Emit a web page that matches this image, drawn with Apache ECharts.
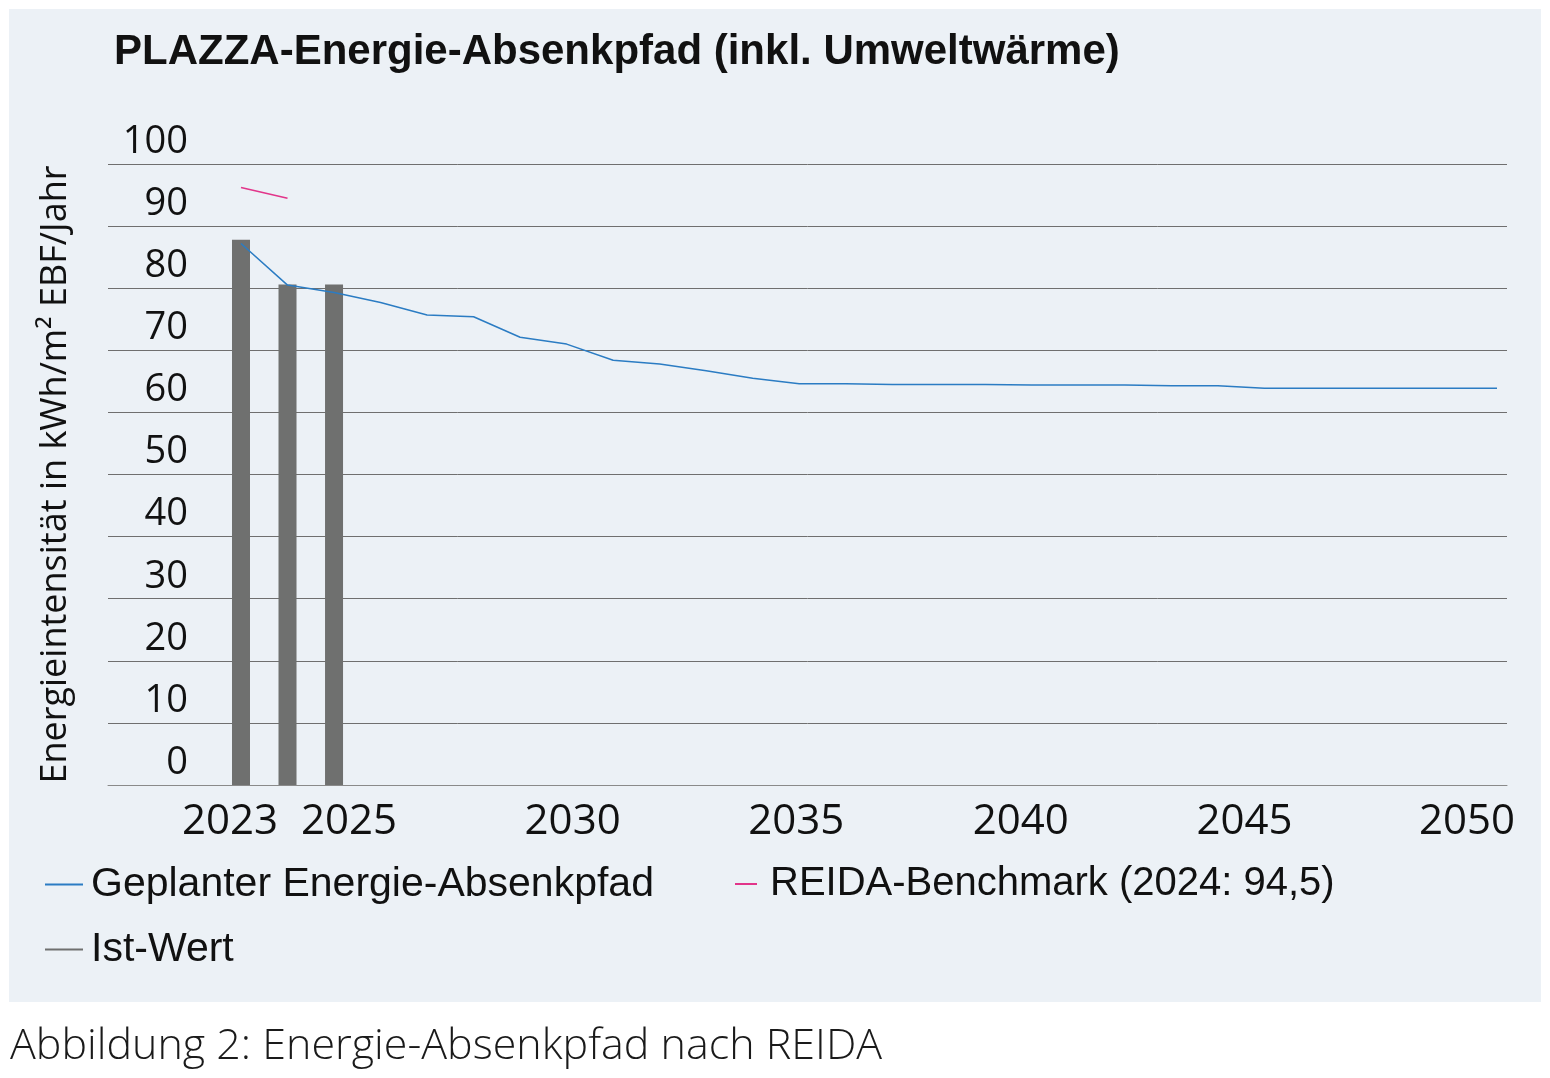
<!DOCTYPE html>
<html>
<head>
<meta charset="utf-8">
<script src="https://cdn.jsdelivr.net/npm/echarts@6/dist/echarts.min.js"></script>
<style>
html,body{margin:0;padding:0;background:#ffffff;}
#chart{width:1550px;height:1078px;}
</style>
</head>
<body>
<div id="chart"></div>
<script>
// ---- data ----
const titleText = 'PLAZZA-Energie-Absenkpfad (inkl. Umweltwärme)';
const yAxisTitle = 'Energieintensität in kWh/m² EBF/Jahr';
const captionText = 'Abbildung 2: Energie-Absenkpfad nach REIDA';
const seriesNames = ['Geplanter Energie-Absenkpfad', 'REIDA-Benchmark (2024: 94,5)', 'Ist-Wert'];
const xTickLabels = [2023, 2025, 2030, 2035, 2040, 2045, 2050];
const yTicks = [0, 10, 20, 30, 40, 50, 60, 70, 80, 90, 100];

const pathYears = [2023, 2024, 2025, 2026, 2027, 2028, 2029, 2030, 2031, 2032, 2033, 2034, 2035, 2036, 2037, 2038, 2039, 2040, 2041, 2042, 2043, 2044, 2045, 2046, 2047, 2048, 2049, 2050];
const pathValues = [87.2, 80.5, 79.3, 77.7, 75.7, 75.4, 72.1, 71.0, 68.4, 67.8, 66.7, 65.5, 64.6, 64.6, 64.5, 64.5, 64.5, 64.4, 64.4, 64.4, 64.3, 64.3, 63.9, 63.9, 63.9, 63.9, 63.9, 63.9];

const benchYears = [2023, 2024];
const benchValues = [96.2, 94.5];

const actualYears = [2023, 2024, 2025];
const actualValues = [87.8, 80.6, 80.6];

// ---- chart ----
const chart = echarts.init(document.getElementById('chart'), null, {renderer: 'canvas'});
const narrow = "'Liberation Sans', sans-serif";
const body = "'Open Sans', 'Noto Sans', sans-serif";

// horizontal nudge of the year labels (reference places them off the data positions)
const labelShift = {2023: -11, 2025: 15, 2030: 6, 2035: -3, 2040: -11, 2045: -20, 2050: -30};
const rich = {};
Object.keys(labelShift).forEach(k => {
  const s = labelShift[k];
  rich['y' + k] = {
    fontFamily: body, fontSize: 42, color: '#111',
    padding: s >= 0 ? [0, 0, 0, 2 * s] : [0, -2 * s, 0, 0]
  };
});

const option = {
  backgroundColor: '#ffffff',
  animation: false,
  graphic: [
    {type: 'rect', shape: {x: 9, y: 9, width: 1532, height: 993}, style: {fill: '#ecf1f6'}, z: -10},
    {type: 'text', left: 10, top: 1025, style: {text: captionText, font: "300 43px " + body, fill: '#1a1a1a'}}
  ],
  title: {
    text: titleText,
    left: 109, top: 26,
    textStyle: {fontFamily: narrow, fontWeight: 'bold', fontSize: 42, color: '#111'}
  },
  legend: [
    {
      data: [seriesNames[0], seriesNames[2]],
      orient: 'vertical', left: 40, top: 859,
      itemWidth: 38, itemHeight: 2, itemGap: 24, icon: 'rect',
      textStyle: {fontFamily: narrow, fontSize: 41, color: '#111', padding: [0, 0, 0, 3]}
    },
    {
      data: [seriesNames[1]],
      orient: 'horizontal', left: 730, top: 859,
      itemWidth: 22, itemHeight: 2, icon: 'rect',
      textStyle: {fontFamily: narrow, fontSize: 40, color: '#111', padding: [0, 0, 0, 8]}
    }
  ],
  grid: {left: 108, right: 43, top: 164, bottom: 293, containLabel: false},
  xAxis: {
    type: 'value',
    min: 2020.141, max: 2050.215,
    axisLine: {show: true, lineStyle: {color: '#8a8a8a', width: 1}},
    axisTick: {show: false},
    splitLine: {show: false},
    axisLabel: {
      customValues: xTickLabels,
      formatter: v => '{y' + v + '|' + v + '}',
      rich: rich,
      margin: 16,
      fontFamily: body, fontSize: 42, color: '#111'
    }
  },
  yAxis: {
    type: 'value',
    min: 0, max: 100, interval: 10,
    name: yAxisTitle,
    nameLocation: 'middle', nameGap: 34, nameRotate: 90,
    nameTextStyle: {fontFamily: body, fontSize: 36, color: '#111'},
    axisLine: {show: false},
    axisTick: {show: false},
    splitLine: {show: true, lineStyle: {color: '#6f6f6f', width: 1}},
    axisLabel: {
      inside: true, align: 'right', margin: 80,
      verticalAlign: 'bottom', padding: [0, 0, 3, 0],
      fontFamily: body, fontSize: 38, color: '#111',
      customValues: yTicks
    }
  },
  series: [
    {
      name: seriesNames[2], type: 'bar',
      data: actualYears.map((y, i) => [y, actualValues[i]]),
      barWidth: 18, itemStyle: {color: '#6f706f'}, z: 1
    },
    {
      name: seriesNames[0], type: 'line',
      data: pathYears.map((y, i) => [y, pathValues[i]]),
      showSymbol: false, symbol: 'none',
      lineStyle: {color: '#2b7cc3', width: 1.5}, itemStyle: {color: '#2b7cc3'}, z: 3
    },
    {
      name: seriesNames[1], type: 'line',
      data: benchYears.map((y, i) => [y, benchValues[i]]),
      showSymbol: false, symbol: 'none',
      lineStyle: {color: '#e2358a', width: 1.5}, itemStyle: {color: '#e2358a'}, z: 3
    }
  ]
};
chart.setOption(option);
</script>
</body>
</html>
